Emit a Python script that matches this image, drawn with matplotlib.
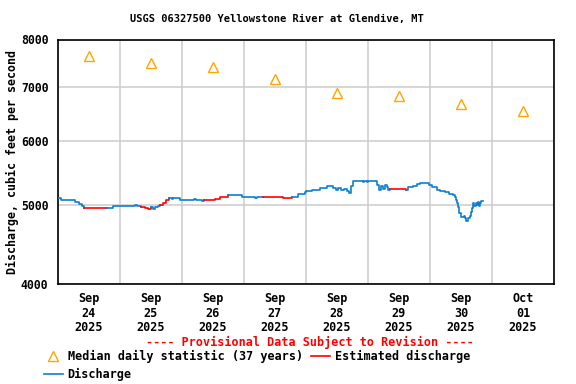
import numpy as np
import matplotlib
matplotlib.use("Agg")
import matplotlib.pyplot as plt
from matplotlib.lines import Line2D

# hours since 2025-09-24 00:00, discharge (cfs), estimated flag
hours = [0, 1.2, 6.6, 8.1, 9.3, 10.1, 19.0, 21.3, 29.8, 30.6,
         32.1, 33.7, 34.8, 36.0, 36.8, 37.5, 38.7, 39.5, 40.6, 41.8,
         43.0, 44.1, 44.5, 47.2, 52.6, 53.4, 55.7, 56.5, 60.8, 62.7,
         65.8, 71.2, 76.3, 77.0, 79.4, 81.3, 87.1, 90.6, 92.9, 95.6,
         96.0, 98.3, 101.4, 104.1, 106.5, 107.6, 108.4, 109.5, 110.7, 111.9,
         112.6, 113.4, 114.2, 118.1, 118.5, 119.6, 120.0, 123.5, 124.3, 125.0,
         125.8, 126.6, 127.4, 127.7, 128.5, 134.7, 135.5, 137.4, 139.0, 140.1,
         143.6, 144.8, 146.7, 147.9, 149.8, 151.4, 152.9, 153.7, 154.1, 154.5,
         154.8, 155.2, 156.0, 157.2, 157.5, 157.9, 158.7, 159.5, 159.9, 160.3,
         160.6, 161.0, 161.8, 162.2, 162.6, 163.0, 163.4, 163.7, 164.5]
flow = [5103, 5074, 5050, 5021, 4993, 4960, 4960, 4993, 5000, 4993,
        4979, 4964, 4954, 4972, 4954, 4979, 4993, 5007, 5035, 5071,
        5103, 5086, 5103, 5074, 5093, 5074, 5057, 5074, 5093, 5112,
        5141, 5126, 5107, 5126, 5126, 5112, 5103, 5122, 5161, 5191,
        5200, 5225, 5250, 5277, 5247, 5225, 5247, 5217, 5240, 5210,
        5173, 5285, 5360, 5340, 5360, 5340, 5360, 5300, 5225, 5285,
        5232, 5300, 5270, 5225, 5240, 5225, 5259, 5274, 5310, 5325,
        5300, 5259, 5225, 5210, 5188, 5166, 5151, 5122, 5078, 5035,
        4979, 4890, 4843, 4853, 4825, 4777, 4818, 4853, 4908, 4964,
        5028, 4993, 5035, 5007, 5042, 4993, 5035, 5057, 5067]
est = [0, 0, 0, 0, 0, 1, 0, 0, 0, 0,
       1, 1, 1, 0, 0, 0, 0, 1, 1, 1,
       0, 0, 0, 0, 0, 0, 0, 1, 1, 1,
       0, 0, 0, 0, 1, 1, 1, 0, 0, 0,
       0, 0, 0, 0, 0, 0, 0, 0, 0, 0,
       0, 0, 0, 0, 0, 0, 0, 0, 0, 0,
       0, 0, 0, 0, 1, 0, 0, 0, 0, 0,
       0, 0, 0, 0, 0, 0, 0, 0, 0, 0,
       0, 0, 0, 0, 0, 0, 0, 0, 0, 0,
       0, 0, 0, 0, 0, 0, 0, 0, 0]

# median daily statistic, at noon of each day
median_hours = [12, 36, 60, 84, 108, 132, 156, 180]
median_flow = [7630, 7490, 7390, 7160, 6880, 6820, 6670, 6530]

day_labels = ["Sep\n24\n2025", "Sep\n25\n2025", "Sep\n26\n2025", "Sep\n27\n2025",
              "Sep\n28\n2025", "Sep\n29\n2025", "Sep\n30\n2025", "Oct\n01\n2025"]

blue = "#0a7fd0"
red = "#ff0000"
orange = "#ffa500"
plt.rcParams["font.family"] = "DejaVu Sans Mono"
plt.rcParams["font.weight"] = "bold"

fig = plt.figure(figsize=(5.76, 3.84), dpi=100)
ax = fig.add_axes([58 / 576, 1 - 284 / 384, 496 / 576, 244.5 / 384])

h = np.array(hours)
q = np.array(flow)
e = np.array(est)
i0 = 0
for i in range(1, len(h)):
    if i == len(h) - 1 or e[i] != e[i0]:
        c = red if e[i0] else blue
        ax.plot(h[i0:i + 1], q[i0:i + 1], drawstyle="steps-post", color=c, lw=1.2, zorder=3)
        i0 = i

ax.plot(median_hours, median_flow, ls="none", marker="^", ms=7.5, mfc="none",
        mec=orange, mew=1.0, zorder=4)

ax.set_yscale("log")
ax.set_ylim(4000, 8000)
ax.set_xlim(0, 192)
ax.yaxis.set_major_locator(plt.FixedLocator([4000, 5000, 6000, 7000, 8000]))
ax.yaxis.set_minor_locator(plt.NullLocator())
ax.set_yticklabels(["4000", "5000", "6000", "7000", "8000"], fontsize=8.3, fontweight="bold")
ax.set_xticks(np.arange(0, 193, 24))
ax.set_xticklabels([])
ax.set_xticks(np.arange(12, 192, 24), minor=True)
ax.set_xticklabels(day_labels, minor=True, fontsize=8.5, fontweight="bold", linespacing=1.15)
ax.tick_params(axis="both", which="both", length=0)
ax.tick_params(axis="x", which="minor", pad=6)
ax.tick_params(axis="y", pad=7)
ax.grid(True, which="major", color="#cccccc", lw=1.1)
ax.set_axisbelow(True)
for s in ax.spines.values():
    s.set_linewidth(1.2)

fig.text(12 / 576, 1 - 162 / 384, "Discharge, cubic feet per second", rotation=90,
         ha="center", va="center", fontsize=8.4, fontweight="bold")
fig.text(277 / 576, 1 - 19 / 384, "USGS 06327500 Yellowstone River at Glendive, MT",
         ha="center", va="center", fontsize=7.5, fontweight="bold")
fig.text(310 / 576, 1 - 342 / 384, "---- Provisional Data Subject to Revision ----",
         ha="center", va="center", fontsize=8.5, fontweight="bold", color=red)

handles = [Line2D([], [], ls="none", marker="^", ms=7.5, mfc="none", mec=orange, mew=1.0),
           Line2D([], [], color=blue, lw=1.2),
           Line2D([], [], color=red, lw=1.2)]
labels = ["Median daily statistic (37 years)", "Discharge", "Estimated discharge"]
fig.legend(handles, labels, ncol=2, loc="upper left", bbox_to_anchor=(44 / 576, 1 - 350 / 384),
           frameon=False, fontsize=8.5, handlelength=1.6, handletextpad=0.4,
           columnspacing=0.7, labelspacing=0.42, borderpad=0, borderaxespad=0)

fig.savefig("out.png", dpi=100)
